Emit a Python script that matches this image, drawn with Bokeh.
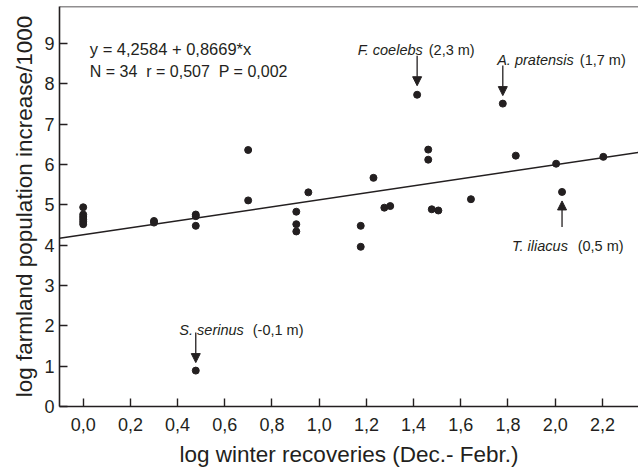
from bokeh.plotting import figure
from bokeh.models import Range1d, FixedTicker, Span, Arrow, NormalHead
from bokeh.core.properties import value
from bokeh.embed import file_html
from bokeh.resources import INLINE

# ---------------- data ----------------
x_values = [0.0, 0.0, 0.0, 0.0, 0.0, 0.0,
            0.30, 0.30,
            0.477, 0.477, 0.477, 0.477,
            0.699, 0.699,
            0.903, 0.903, 0.903,
            0.954,
            1.176, 1.176,
            1.230,
            1.276, 1.301,
            1.415,
            1.462, 1.462,
            1.477, 1.505,
            1.643,
            1.778,
            1.833,
            2.004,
            2.029,
            2.204]
y_values = [4.94, 4.76, 4.70, 4.64, 4.58, 4.52,
            4.60, 4.56,
            4.76, 4.72, 4.48, 0.89,
            6.36, 5.11,
            4.83, 4.52, 4.34,
            5.31,
            4.48, 3.96,
            5.67,
            4.93, 4.97,
            7.73,
            6.37, 6.12,
            4.89, 4.86,
            5.14,
            7.51,
            6.22,
            6.02,
            5.32,
            6.19]

intercept = 4.2584
slope = 0.8669

x_ticks = [0.0, 0.2, 0.4, 0.6, 0.8, 1.0, 1.2, 1.4, 1.6, 1.8, 2.0, 2.2]
x_tick_labels = ["0,0", "0,2", "0,4", "0,6", "0,8", "1,0", "1,2", "1,4",
                 "1,6", "1,8", "2,0", "2,2"]
y_ticks = [0, 1, 2, 3, 4, 5, 6, 7, 8, 9]
y_tick_labels = ["0", "1", "2", "3", "4", "5", "6", "7", "8", "9"]

ann_species = ["F. coelebs", "A. pratensis", "T. iliacus", "S. serinus"]
ann_notes = ["(2,3 m)", "(1,7 m)", "(0,5 m)", "(-0,1 m)"]
ann_x = [1.415, 1.778, 2.029, 0.477]
ann_y = [7.73, 7.51, 5.32, 0.89]

eq_line1 = "y = 4,2584 + 0,8669*x"
eq_line2 = "N = 34 \u00a0r = 0,507 \u00a0P = 0,002"

x_label = "log winter recoveries (Dec.- Febr.)"
y_label = "log farmland population increase/1000"

# ---------------- style / layout ----------------
INK = "#231f20"
FONT = "Liberation Sans"
W, H = 638, 472
BL, BT, BR, BB = 59, 6, 0, 66
FW, FH = W - BL - BR, H - BT - BB
X0 = -0.1004
X1 = X0 + FW / 236.0
Y0 = 0.0
Y1 = FH / 40.33
PX = FW / (X1 - X0)
PY = FH / (Y1 - Y0)

p = figure(width=W, height=H, output_backend="svg", toolbar_location=None,
           x_range=Range1d(X0, X1), y_range=Range1d(Y0, Y1),
           min_border_left=BL, min_border_top=BT, min_border_right=BR,
           min_border_bottom=BB)
p.outline_line_color = None
p.grid.visible = False
p.background_fill_color = "white"
p.border_fill_color = "white"

for ax in (p.xaxis[0], p.yaxis[0]):
    ax.axis_line_color = INK
    ax.axis_line_width = 1.6
    ax.major_tick_line_color = INK
    ax.major_tick_line_width = 1.4
    ax.major_tick_in = 8
    ax.major_tick_out = 0
    ax.minor_tick_line_color = None
    ax.major_label_text_font = FONT
    ax.major_label_text_font_size = "18px"
    ax.major_label_text_color = INK
    ax.axis_label_text_font = FONT
    ax.axis_label_text_font_size = "22.5px"
    ax.axis_label_text_font_style = "normal"
    ax.axis_label_text_color = INK

p.xaxis.ticker = FixedTicker(ticks=x_ticks)
p.xaxis.major_label_overrides = dict(zip(x_ticks, x_tick_labels))
p.yaxis.ticker = FixedTicker(ticks=y_ticks)
p.yaxis.major_label_overrides = dict(zip(y_ticks, y_tick_labels))
p.xaxis.axis_label = x_label
p.yaxis.axis_label = y_label
p.xaxis.major_label_standoff = 11
p.xaxis.axis_label_standoff = 8
p.yaxis.major_label_standoff = 5
p.yaxis.axis_label_standoff = 4

p.add_layout(Span(location=Y1, dimension="width", line_color=INK,
                  line_width=1.6))

# regression line
p.line([X0, X1], [intercept + slope * X0, intercept + slope * X1],
       line_color=INK, line_width=1.5)

# points
p.scatter(x_values, y_values, size=7, fill_color=INK, line_color=INK)

# equation text
p.text([0.028], [8.87], text=[eq_line1], text_font=value(FONT),
       text_font_size="16.5px", text_color=INK, text_baseline="alphabetic")
p.text([0.028], [8.31], text=[eq_line2], text_font=value(FONT),
       text_font_size="16px", text_color=INK, text_baseline="alphabetic")

# annotations: (italic dx, dy, note dx) in pixels; arrow (start, end) in px
txt_off = [(-59.4, 45.0, 11.6), (-5.6, 43.7, 77.0),
           (-50.0, -53.7, 15.6), (-16.4, 40.7, 57.0)]
arr_off = [(39, 9), (38, 8), (-35, -9), (38, 8)]

sp_x, sp_y, nt_x, nt_y = [], [], [], []
for xi, yi, (dx, dy, ndx) in zip(ann_x, ann_y, txt_off):
    sp_x.append(xi + dx / PX)
    sp_y.append(yi + dy / PY)
    nt_x.append(xi + ndx / PX)
    nt_y.append(yi + dy / PY)

p.text(sp_x, sp_y, text=ann_species, text_font=value(FONT),
       text_font_size="14.5px", text_font_style="italic", text_color=INK,
       text_baseline="alphabetic")
p.text(nt_x, nt_y, text=ann_notes, text_font=value(FONT),
       text_font_size="14.5px", text_color=INK, text_baseline="alphabetic")

for xi, yi, (s, e) in zip(ann_x, ann_y, arr_off):
    p.add_layout(Arrow(end=NormalHead(size=9, fill_color=INK, line_color=INK,
                                      line_width=1),
                       x_start=xi, y_start=yi + s / PY,
                       x_end=xi, y_end=yi + e / PY,
                       line_color=INK, line_width=1.3))

open("out.html", "w").write(file_html(p, INLINE))
